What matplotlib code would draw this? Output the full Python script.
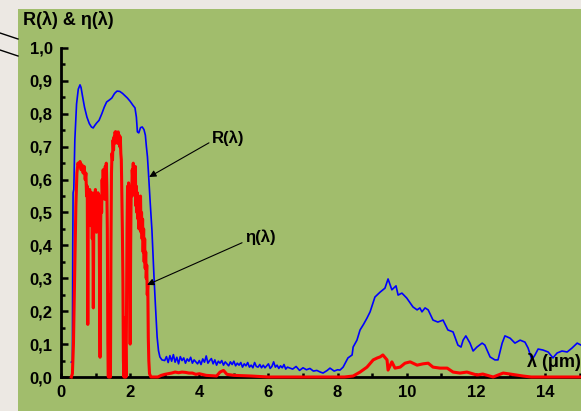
import matplotlib
matplotlib.use("Agg")
import matplotlib.pyplot as plt
from matplotlib.lines import Line2D
from matplotlib.patches import Rectangle
from matplotlib.ticker import MultipleLocator

plt.rcParams['font.family'] = ['Liberation Sans', 'DejaVu Sans']
plt.rcParams['font.weight'] = 'bold'

# reflectance R(lambda)
r_x = [0.30, 0.33, 0.34, 0.35, 0.37, 0.40, 0.45, 0.50, 0.55, 0.58, 0.62, 0.68, 0.75,
       0.82, 0.88, 0.93, 0.98, 1.03, 1.10, 1.18, 1.25, 1.32, 1.40, 1.47, 1.55, 1.62,
       1.70, 1.78, 1.85, 1.92, 2.00, 2.08, 2.14, 2.18, 2.21, 2.25, 2.30, 2.35, 2.40,
       2.44, 2.47, 2.50, 2.53, 2.58, 2.63, 2.69, 2.73, 2.78, 2.82, 2.86, 2.92,
       3.00, 3.05, 3.10, 3.15, 3.20, 3.25, 3.30, 3.35, 3.40, 3.45, 3.50, 3.55, 3.60,
       3.65, 3.70, 3.75, 3.80, 3.85, 3.90, 3.95, 4.00, 4.05, 4.10, 4.15, 4.20, 4.25,
       4.30, 4.35, 4.40, 4.45, 4.50, 4.55, 4.60, 4.65, 4.70, 4.75, 4.80, 4.85, 4.90,
       4.95, 5.00, 5.05, 5.10, 5.15, 5.20, 5.25, 5.30, 5.35, 5.40, 5.45, 5.50, 5.55,
       5.60, 5.65, 5.70, 5.75, 5.80, 5.85, 5.90, 5.95, 6.00, 6.05, 6.10, 6.15, 6.20,
       6.25, 6.30, 6.35, 6.40, 6.45, 6.50, 6.55, 6.60, 6.70, 6.80, 6.90, 7.00, 7.10,
       7.20, 7.30, 7.40, 7.50, 7.58, 7.70, 7.78, 7.90, 8.00, 8.07, 8.16, 8.30, 8.42,
       8.45, 8.56, 8.65, 8.75, 8.85, 8.94, 9.08, 9.23, 9.37, 9.46, 9.57, 9.69, 9.75,
       9.86, 10.00, 10.18, 10.30, 10.38, 10.44, 10.53, 10.62, 10.76, 10.90, 11.05,
       11.19, 11.34, 11.48, 11.57, 11.63, 11.71, 11.83, 11.92, 12.03, 12.18, 12.26,
       12.41, 12.55, 12.64, 12.76, 12.84, 12.99, 13.13, 13.28, 13.42, 13.51, 13.62,
       13.71, 13.80, 13.94, 14.09, 14.23, 14.35, 14.49, 14.64, 14.78, 14.93, 15.04]
r_y = [0.045, 0.045, 0.40, 0.56, 0.57, 0.72, 0.83, 0.875, 0.888, 0.88, 0.855, 0.82, 0.79,
       0.77, 0.76, 0.757, 0.765, 0.772, 0.78, 0.80, 0.82, 0.836, 0.842, 0.848, 0.862, 0.869,
       0.868, 0.862, 0.855, 0.848, 0.838, 0.826, 0.818, 0.79, 0.745, 0.742, 0.758, 0.76, 0.752,
       0.735, 0.70, 0.67, 0.62, 0.53, 0.447, 0.304, 0.22, 0.122, 0.08, 0.061, 0.052,
       0.050, 0.062, 0.044, 0.065, 0.048, 0.068, 0.045, 0.060, 0.040, 0.062, 0.050, 0.058, 0.042,
       0.055, 0.048, 0.060, 0.042, 0.052, 0.046, 0.040, 0.050, 0.038, 0.055, 0.045, 0.064, 0.042,
       0.050, 0.056, 0.040, 0.052, 0.036, 0.048, 0.042, 0.050, 0.036, 0.046, 0.040, 0.034, 0.046,
       0.038, 0.048, 0.034, 0.042, 0.036, 0.044, 0.030, 0.040, 0.034, 0.044, 0.030, 0.036, 0.028,
       0.044, 0.032, 0.030, 0.038, 0.028, 0.036, 0.028, 0.034, 0.040, 0.026, 0.032, 0.046, 0.030,
       0.036, 0.026, 0.034, 0.028, 0.038, 0.024, 0.030, 0.028, 0.024, 0.032, 0.020, 0.028, 0.022,
       0.026, 0.018, 0.020, 0.015, 0.012, 0.020, 0.027, 0.018, 0.022, 0.021, 0.030, 0.058, 0.067,
       0.091, 0.112, 0.143, 0.160, 0.179, 0.198, 0.243, 0.258, 0.270, 0.298, 0.265, 0.277, 0.249,
       0.255, 0.240, 0.213, 0.204, 0.210, 0.198, 0.210, 0.204, 0.173, 0.167, 0.173,
       0.143, 0.137, 0.097, 0.091, 0.112, 0.125, 0.103, 0.079, 0.091, 0.103, 0.097,
       0.061, 0.052, 0.052, 0.103, 0.125, 0.118, 0.103, 0.112, 0.106, 0.088, 0.052,
       0.067, 0.085, 0.082, 0.076, 0.058, 0.073, 0.079, 0.076, 0.088, 0.103, 0.097]

# efficiency eta(lambda)
eta_x = [0.30, 0.33, 0.36, 0.40, 0.43, 0.46, 0.49, 0.52, 0.55, 0.58, 0.61, 0.64, 0.67,
         0.70, 0.72, 0.74, 0.76, 0.775, 0.79, 0.81, 0.83, 0.845, 0.86, 0.875, 0.89, 0.905,
         0.92, 0.935, 0.95, 0.965, 0.98, 0.995, 1.01, 1.025, 1.04, 1.055, 1.07, 1.085, 1.10,
         1.115, 1.13, 1.145, 1.16, 1.175, 1.19, 1.205, 1.22, 1.235, 1.25, 1.265, 1.28, 1.295,
         1.31, 1.325, 1.34, 1.355, 1.37, 1.385, 1.40, 1.415, 1.43, 1.445, 1.46, 1.475, 1.49,
         1.505, 1.52, 1.535, 1.55, 1.565, 1.58, 1.595, 1.61, 1.625, 1.64, 1.655, 1.67, 1.685,
         1.70, 1.715, 1.73, 1.745, 1.76, 1.775, 1.79, 1.805, 1.82, 1.835, 1.85, 1.865, 1.88,
         1.895, 1.91, 1.925, 1.94, 1.955, 1.97, 1.985, 2.00, 2.015, 2.03, 2.045, 2.06, 2.075,
         2.09, 2.105, 2.12, 2.135, 2.15, 2.165, 2.18, 2.195, 2.21, 2.225, 2.24, 2.255, 2.27,
         2.285, 2.30, 2.315, 2.33, 2.345, 2.36, 2.375, 2.39, 2.405, 2.42, 2.435, 2.45, 2.465,
         2.48, 2.495, 2.51, 2.525, 2.54, 2.56, 2.60, 2.80,
         2.90, 3.00, 3.10, 3.20, 3.30, 3.40, 3.50, 3.60, 3.70, 3.80, 3.90, 4.00, 4.20,
         4.50, 4.60, 4.70, 4.80, 5.00, 5.50, 6.00, 8.20, 8.45, 8.65, 8.85, 9.03, 9.15,
         9.23, 9.31, 9.43, 9.46, 9.57, 9.66, 9.81, 9.95, 10.10, 10.30, 10.47, 10.62,
         10.76, 10.96, 11.17, 11.34, 11.54, 11.74, 12.03, 12.20, 12.50, 12.79, 12.99,
         13.36, 13.60, 15.00]
eta_y = [0.0, 0.01, 0.10, 0.35, 0.52, 0.62, 0.65, 0.64, 0.655, 0.63, 0.645, 0.62, 0.64,
         0.60, 0.62, 0.55, 0.58, 0.16, 0.56, 0.50, 0.57, 0.46, 0.55, 0.50, 0.56, 0.42,
         0.52, 0.21, 0.50, 0.56, 0.48, 0.57, 0.52, 0.44, 0.55, 0.50, 0.56, 0.47, 0.54,
         0.30, 0.06, 0.45, 0.55, 0.50, 0.60, 0.55, 0.63, 0.56, 0.61, 0.54, 0.64, 0.60,
         0.65, 0.58, 0.45, 0.10, 0.0, 0.25, 0.0, 0.02, 0.0, 0.40, 0.62, 0.68, 0.66,
         0.72, 0.69, 0.73, 0.71, 0.745, 0.72, 0.745, 0.73, 0.74, 0.71, 0.745, 0.72, 0.735,
         0.70, 0.73, 0.68, 0.66, 0.55, 0.45, 0.30, 0.05, 0.0, 0.18, 0.0, 0.10, 0.0,
         0.20, 0.45, 0.58, 0.55, 0.59, 0.50, 0.35, 0.10, 0.40, 0.58, 0.55, 0.63, 0.60,
         0.65, 0.58, 0.62, 0.55, 0.64, 0.52, 0.58, 0.50, 0.56, 0.48, 0.55, 0.45, 0.53,
         0.50, 0.55, 0.44, 0.50, 0.42, 0.48, 0.38, 0.45, 0.35, 0.42, 0.33, 0.38, 0.30,
         0.34, 0.25, 0.28, 0.12, 0.05, 0.01, 0.0, 0.0,
         0.005, 0.008, 0.010, 0.012, 0.015, 0.013, 0.015, 0.014, 0.012, 0.012, 0.008, 0.010, 0.005,
         0.003, 0.015, 0.020, 0.008, 0.005, 0.003, 0.0, 0.0, 0.003, 0.015, 0.030, 0.052, 0.058,
         0.061, 0.067, 0.052, 0.021, 0.046, 0.027, 0.030, 0.042, 0.046, 0.036, 0.040, 0.042,
         0.030, 0.027, 0.027, 0.015, 0.012, 0.015, 0.006, 0.009, 0.0, 0.012, 0.009,
         0.003, 0.0, 0.0]

y_ticks = [0.0, 0.1, 0.2, 0.3, 0.4, 0.5, 0.6, 0.7, 0.8, 0.9, 1.0]
y_labels = ['0,0', '0,1', '0,2', '0,3', '0,4', '0,5', '0,6', '0,7', '0,8', '0,9', '1,0']
x_ticks = [0, 2, 4, 6, 8, 10, 12, 14]

green = '#a1bd6c'
fig = plt.figure(figsize=(5.81, 4.11), dpi=100, facecolor='#ece8e3')

# green panel and the two stray lines at top left
fig.patches.append(Rectangle((18 / 581, 0), 1, 1 - 9 / 411, transform=fig.transFigure,
                             facecolor=green, edgecolor='none', zorder=-10))
fig.lines.append(Line2D([0, 18 / 581], [1 - 33 / 411, 1 - 39 / 411], transform=fig.transFigure,
                        color='black', lw=1, zorder=-5))
fig.lines.append(Line2D([0, 18 / 581], [1 - 50 / 411, 1 - 56 / 411], transform=fig.transFigure,
                        color='black', lw=1, zorder=-5))

ax = fig.add_axes([61 / 581, 34 / 411, 518.6 / 581, 329 / 411])
ax.set_facecolor('none')

ax.plot(r_x, r_y, color='#0000ff', lw=1.2, zorder=3, clip_on=False)
ax.plot(eta_x, eta_y, color='#ff0000', lw=2.2, zorder=3, clip_on=False)

ax.set_xlim(0, 15)
ax.set_ylim(0, 1.0)
for s in ['top', 'right']:
    ax.spines[s].set_visible(False)
for s in ['left', 'bottom']:
    ax.spines[s].set_linewidth(2.0)

ax.set_yticks(y_ticks)
ax.set_yticklabels(y_labels)
ax.set_xticks(x_ticks)
ax.yaxis.set_minor_locator(MultipleLocator(0.05))
ax.xaxis.set_minor_locator(MultipleLocator(1))
ax.tick_params(axis='y', which='major', direction='in', length=5, width=1.8, labelsize=12, pad=6)
ax.tick_params(axis='y', which='minor', direction='in', length=3, width=1.8)
ax.tick_params(axis='x', which='both', direction='in', length=3, width=1.8, labelsize=12, pad=6)
for lab in ax.get_xticklabels() + ax.get_yticklabels():
    lab.set_fontweight('bold')

ax.annotate('R(λ)', xy=(2.55, 0.608), xytext=(4.83, 0.726), ha='center', va='center',
            fontsize=12, fontweight='bold',
            arrowprops=dict(arrowstyle='-|>', color='black', lw=0.8, mutation_scale=10,
                            shrinkA=0, shrinkB=0, relpos=(0.0, 0.3)))
ax.annotate('η(λ)', xy=(2.49, 0.28), xytext=(5.76, 0.426), ha='center', va='center',
            fontsize=12, fontweight='bold',
            arrowprops=dict(arrowstyle='-|>', color='black', lw=0.8, mutation_scale=10,
                            shrinkA=0, shrinkB=0, relpos=(0.0, 0.2)))

ax.text(14.25, 0.046, 'λ (μm)', ha='center', va='center', fontsize=13, fontweight='bold')
fig.text(23 / 581, 1 - 20 / 411, 'R(λ) & η(λ)', ha='left', va='center',
         fontsize=13, fontweight='bold')

fig.savefig('out.png', dpi=100, facecolor=fig.get_facecolor())
